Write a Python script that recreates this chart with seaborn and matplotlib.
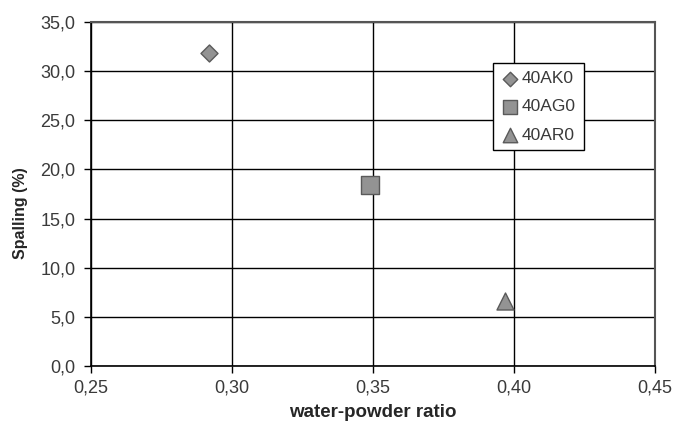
import pandas as pd
import seaborn as sns
import matplotlib
matplotlib.use('Agg')
import matplotlib.pyplot as plt
from matplotlib.ticker import FuncFormatter, MultipleLocator

series = ['40AK0', '40AG0', '40AR0']
wp_ratio = [0.292, 0.349, 0.397]
spalling = [31.8, 18.4, 6.6]
markers = {'40AK0': 'D', '40AG0': 's', '40AR0': '^'}
sizes = {'40AK0': 75, '40AG0': 150, '40AR0': 150}

df = pd.DataFrame({'mix': series, 'wp': wp_ratio, 'spalling': spalling})

sns.set_style('white')
plt.rcParams['font.family'] = ['Liberation Sans', 'DejaVu Sans']

fig = plt.figure(figsize=(6.78, 4.40), dpi=100)
ax = fig.add_axes([0.134, 0.168, 0.832, 0.782])

for name in series:
    sub = df[df['mix'] == name]
    sns.scatterplot(data=sub, x='wp', y='spalling', marker=markers[name], s=sizes[name],
                    color='#939393', edgecolor='#5a5a5a', linewidth=1.0, label=name, ax=ax, zorder=3)

ax.set_xlim(0.25, 0.45)
ax.set_ylim(0, 35)
ax.xaxis.set_major_locator(MultipleLocator(0.05))
ax.yaxis.set_major_locator(MultipleLocator(5))
ax.xaxis.set_major_formatter(FuncFormatter(lambda v, p: f'{v:.2f}'.replace('.', ',')))
ax.yaxis.set_major_formatter(FuncFormatter(lambda v, p: f'{v:.1f}'.replace('.', ',')))
ax.grid(True, color='black', linewidth=1.0)
ax.set_axisbelow(True)

for side in ['left', 'bottom']:
    ax.spines[side].set_color('black')
    ax.spines[side].set_linewidth(1.2)
for side in ['top', 'right']:
    ax.spines[side].set_color('#555555')
    ax.spines[side].set_linewidth(1.5)

ax.tick_params(axis='both', which='major', direction='out', length=5, width=1, color='black',
               labelsize=13, labelcolor='#3a3a3a', left=True, bottom=True)
ax.tick_params(axis='y', pad=6)
ax.tick_params(axis='x', pad=5)

ax.set_xlabel('water-powder ratio', fontsize=13.5, fontweight='bold', labelpad=5)
ax.set_ylabel('Spalling (%)', fontsize=11.5, fontweight='bold')
ax.yaxis.set_label_coords(-0.112, 0.445)

leg = ax.legend(loc='upper left', bbox_to_anchor=(0.713, 0.88), frameon=True, fancybox=False,
                edgecolor='black', fontsize=12.5, handletextpad=0.1, borderpad=0.45,
                labelspacing=0.75, handlelength=1.1, borderaxespad=0, markerscale=0.85)
leg.get_frame().set_linewidth(1.0)
leg.get_frame().set_alpha(1)
for t in leg.get_texts():
    t.set_color('#3a3a3a')

fig.savefig('out.png', dpi=100)
